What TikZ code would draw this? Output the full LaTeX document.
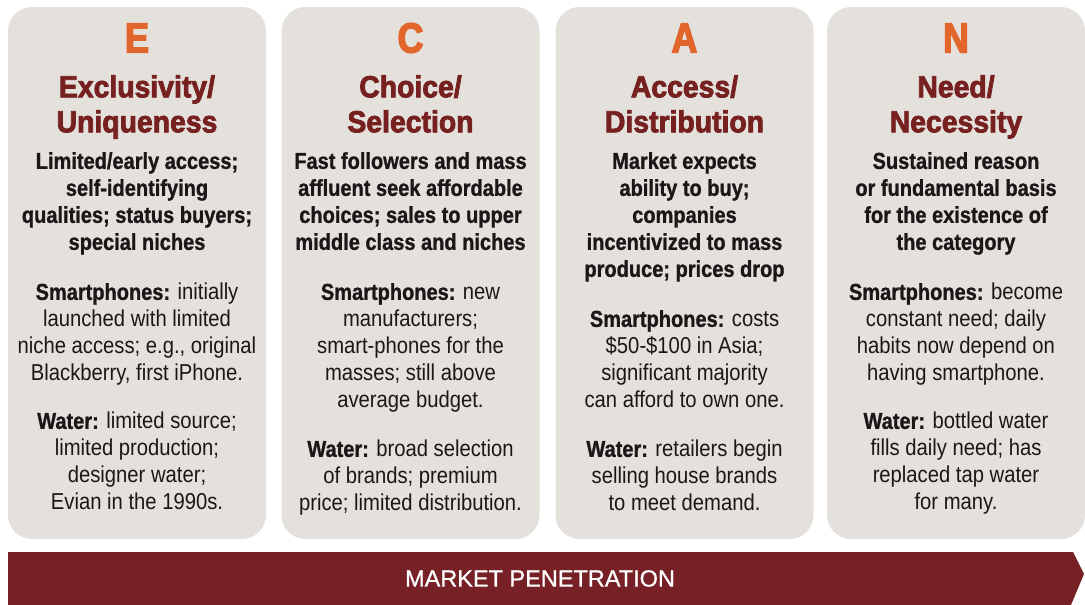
\documentclass[tikz,border=0pt]{standalone}
\usepackage{fontspec}
\setmainfont{Liberation Sans}[FakeStretch=0.88]
\newfontfamily\leadfont{Liberation Sans Bold}[FakeStretch=0.87,FakeBold=1]
\newfontfamily\headfont{Liberation Sans Bold}[FakeStretch=0.93,FakeBold=2.6]
\newfontfamily\letterfont{Liberation Sans Bold}[FakeStretch=0.85,FakeBold=3.5]
\newfontfamily\bandfont{Liberation Sans}[FakeBold=0.8]
\definecolor{boxgray}{HTML}{E4E0DC}
\definecolor{headred}{HTML}{76201F}
\definecolor{letterorange}{HTML}{E2662B}
\definecolor{bandred}{HTML}{772126}
\definecolor{bodyblack}{HTML}{1A1718}
\newcommand{\lbl}[1]{{\leadfont #1}}
\begin{document}
\begin{tikzpicture}[x=1pt,y=-1pt,
  panel/.style={fill=boxgray, rounded corners=24pt, minimum width=258pt, minimum height=532pt, inner sep=0pt},
  letter/.style={inner sep=0pt, text=letterorange, font=\letterfont\fontsize{42}{42}\selectfont},
  heading/.style={inner sep=0pt, anchor=north, align=center, text=headred, font=\headfont\fontsize{30.5}{35}\selectfont},
  lead/.style={inner sep=0pt, anchor=north, align=center, text=bodyblack, font=\leadfont\fontsize{23}{27}\selectfont},
  body/.style={inner sep=0pt, anchor=north, align=center, text=bodyblack, font=\fontsize{23}{27}\selectfont},
  bandtext/.style={inner sep=0pt, text=white, font=\bandfont\fontsize{23.5}{23.5}\selectfont}
]
\useasboundingbox (0,0) rectangle (1085,605);

% panels
\node[panel] (p1) at (137,273) {};
\node[panel] (p2) at (410.5,273) {};
\node[panel] (p3) at (684.5,273) {};
\node[panel] (p4) at (956,273) {};

% band arrow
\fill[bandred] (8,552) -- (1073,552) -- (1084,574) -- (1071,605) -- (8,605) -- cycle;
\node[bandtext] (mp) at (540,578.5) {MARKET PENETRATION};

% column 1
\node[letter] (l1) at (137,38) {E};
\node[heading] (h1) at (137,75) {Exclusivity/\\Uniqueness};
\node[lead] (d1) at (137,152) {Limited/early access;\\self-identifying\\qualities; status buyers;\\special niches};
\node[body] (s1) at (137,283) {\lbl{Smartphones:} initially\\launched with limited\\niche access; e.g., original\\Blackberry, first iPhone.};
\node[body] (w1) at (137,412) {\lbl{Water:} limited source;\\limited production;\\designer water;\\Evian in the 1990s.};

% column 2
\node[letter] (l2) at (410.5,38) {C};
\node[heading] (h2) at (410.5,75) {Choice/\\Selection};
\node[lead] (d2) at (410.5,152) {Fast followers and mass\\affluent seek affordable\\choices; sales to upper\\middle class and niches};
\node[body] (s2) at (410.5,283) {\lbl{Smartphones:} new\\manufacturers;\\smart-phones for the\\masses; still above\\average budget.};
\node[body] (w2) at (410.5,440) {\lbl{Water:} broad selection\\of brands; premium\\price; limited distribution.};

% column 3
\node[letter] (l3) at (684.5,38) {A};
\node[heading] (h3) at (684.5,75) {Access/\\Distribution};
\node[lead] (d3) at (684.5,152) {Market expects\\ability to buy;\\companies\\incentivized to mass\\produce; prices drop};
\node[body] (s3) at (684.5,310) {\lbl{Smartphones:} costs\\\$50-\$100 in Asia;\\significant majority\\can afford to own one.};
\node[body] (w3) at (684.5,440) {\lbl{Water:} retailers begin\\selling house brands\\to meet demand.};

% column 4
\node[letter] (l4) at (956,38) {N};
\node[heading] (h4) at (956,75) {Need/\\Necessity};
\node[lead] (d4) at (956,152) {Sustained reason\\or fundamental basis\\for the existence of\\the category};
\node[body] (s4) at (956,283) {\lbl{Smartphones:} become\\constant need; daily\\habits now depend on\\having smartphone.};
\node[body] (w4) at (956,412) {\lbl{Water:} bottled water\\fills daily need; has\\replaced tap water\\for many.};
\end{tikzpicture}
\end{document}
